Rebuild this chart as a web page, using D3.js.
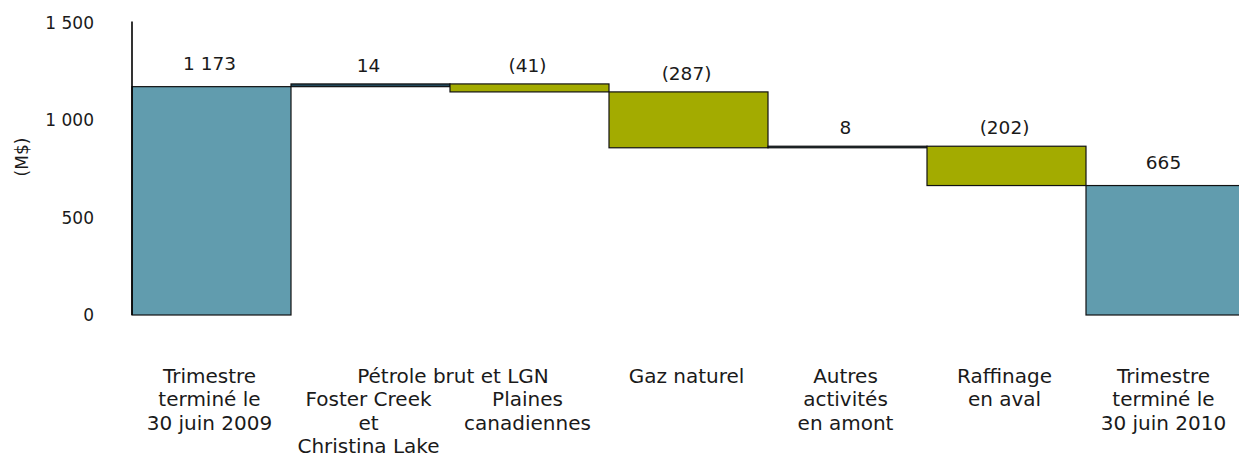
<!DOCTYPE html>
<html>
<head>
<meta charset="utf-8">
<script src="https://cdn.jsdelivr.net/npm/d3@7"></script>
<style>
  html, body { margin: 0; padding: 0; background: #ffffff; overflow: hidden; }
  svg { display: block; }
  text { font-family: "DejaVu Sans", Verdana, sans-serif; fill: #1a1a1a; }
</style>
</head>
<body>
<svg id="chart" width="1239" height="459"></svg>
<script>
// ---- data ----
const categories = [
  "Trimestre terminé le 30 juin 2009",
  "Foster Creek et Christina Lake",
  "Plaines canadiennes",
  "Gaz naturel",
  "Autres activités en amont",
  "Raffinage en aval",
  "Trimestre terminé le 30 juin 2010"
];
const categoryLines = [
  ["Trimestre", "terminé le", "30 juin 2009"],
  ["", "Foster Creek", "et", "Christina Lake"],
  ["", "Plaines", "canadiennes"],
  ["Gaz naturel"],
  ["Autres", "activités", "en amont"],
  ["Raffinage", "en aval"],
  ["Trimestre", "terminé le", "30 juin 2010"]
];
const groupLabel = "Pétrole brut et LGN";
const groupMembers = ["Foster Creek et Christina Lake", "Plaines canadiennes"];
const values = [1173, 14, -41, -287, 8, -202, 665];
const kinds = ["total", "delta", "delta", "delta", "delta", "delta", "total"];
const valueLabels = ["1 173", "14", "(41)", "(287)", "8", "(202)", "665"];
const yTicks = [0, 500, 1000, 1500];
const yTickLabels = ["0", "500", "1 000", "1 500"];
const yTitle = "(M$)";

// ---- build waterfall ----
let running = 0;
const bars = categories.map((c, i) => {
  let start, end;
  if (kinds[i] === "total") { start = 0; end = values[i]; running = values[i]; }
  else { start = running; end = running + values[i]; running = end; }
  return { cat: c, start, end, value: values[i], kind: kinds[i], label: valueLabels[i], lines: categoryLines[i] };
});

const svg = d3.select("#chart");
const x = d3.scaleBand().domain(categories).range([132, 132 + 7 * 159]).padding(0);
const y = d3.scaleLinear().domain([0, 1500]).range([315, 23]);

const color = d => {
  if (d.kind === "total") return "#619cae";
  return d.value < 0 ? "#a3ab00" : "#22495b";
};

// bars
svg.append("g").selectAll("rect").data(bars).join("rect")
  .attr("x", d => x(d.cat))
  .attr("width", x.bandwidth())
  .attr("y", d => y(Math.max(d.start, d.end)))
  .attr("height", d => Math.max(1, Math.abs(y(d.start) - y(d.end))))
  .attr("fill", color)
  .attr("stroke", "#111")
  .attr("stroke-width", 1.2);

// y axis
const yAxis = d3.axisLeft(y).tickValues(yTicks)
  .tickFormat((d, i) => yTickLabels[i]).tickSize(0).tickPadding(38);
const gy = svg.append("g").attr("transform", "translate(132,0)").call(yAxis);
gy.select(".domain").attr("stroke", "#000").attr("stroke-width", 1.6).attr("d", `M0,${y(1500) - 1.5}V${y(0)}`);
gy.selectAll(".tick text").style("font-size", "17px").style("font-family", "DejaVu Sans, Verdana, sans-serif").attr("fill", "#1a1a1a");

// y title
svg.append("text")
  .attr("transform", `translate(28,${(y(0) + y(1500)) / 2 - 12}) rotate(-90)`)
  .attr("text-anchor", "middle")
  .style("font-size", "17px")
  .text(yTitle);

// value labels
svg.append("g").selectAll("text").data(bars).join("text")
  .attr("x", d => x(d.cat) + x.bandwidth() / 2 - 2)
  .attr("y", d => y(Math.max(d.start, d.end)) - (d.kind === "total" ? 17 : 12))
  .attr("text-anchor", "middle")
  .style("font-size", "18.5px")
  .text(d => d.label);

// category labels
const lineBase = 383, lineStep = 23.4;
const catG = svg.append("g").selectAll("text").data(bars).join("text")
  .attr("text-anchor", "middle")
  .style("font-size", "20px");
catG.each(function(d) {
  const t = d3.select(this);
  d.lines.forEach((ln, k) => {
    if (!ln) return;
    t.append("tspan")
      .attr("x", x(d.cat) + x.bandwidth() / 2 - 2)
      .attr("y", lineBase + k * lineStep)
      .text(ln);
  });
});

// group label
const gx0 = x(groupMembers[0]);
const gx1 = x(groupMembers[groupMembers.length - 1]) + x.bandwidth();
svg.append("text")
  .attr("x", (gx0 + gx1) / 2 + 3)
  .attr("y", lineBase)
  .attr("text-anchor", "middle")
  .style("font-size", "20px")
  .text(groupLabel);
</script>
</body>
</html>
